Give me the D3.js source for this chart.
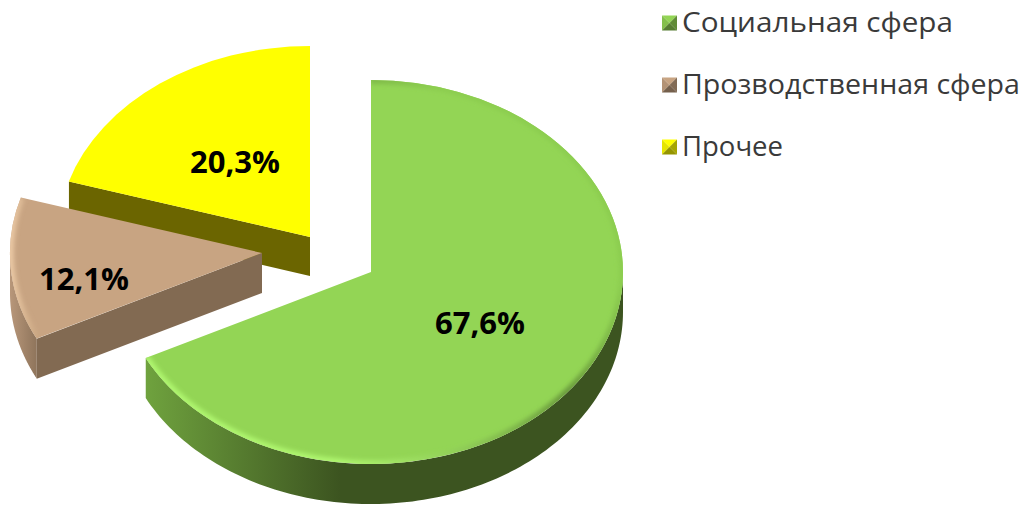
<!DOCTYPE html>
<html>
<head>
<meta charset="utf-8">
<script src="https://d3js.org/d3.v7.min.js"></script>
<style>
    html, body { margin: 0; padding: 0; background: #fff; }
    svg { display: block; }
</style>
</head>
<body>
<svg id="chart" width="1026" height="506"></svg>
<script>
const categories = ["Социальная сфера", "Прозводственная сфера", "Прочее"];
const values = [67.6, 12.1, 20.3];
const valueLabels = ["67,6%", "12,1%", "20,3%"];

// styles per slice, same order as categories
const topColors = ["#93d555", "#c8a482", "#ffff00"];
const sideColors = ["#3c5420", "#826a52", "#6b6500"];
const outerLight = ["#6fa23e", "#b8977a", "#6b6500"];
const rimLight = ["#aef56e", "#eac8a4", "#ffff00"];
const rimDark = ["#6a9a3c", "#b8946f", "#ffff00"];
const rimEnd = ["#8ccd50", "#c8a482", "#ffff00"];

// exploded slice centres on the page
const centerX = [371, 262, 310];
const centerY = [272, 253, 237];
const radiusY = [192, 191, 191];
const labelX = [480, 84, 235];
const labelY = [334, 290, 173];

const legendY = [23, 85, 147];
const legendBaseline = [32, 94, 156];
const legendWidth = [271, 338, 101];

const radiusX = 252;
const depth = [40, 40, 39];
const drawOrder = [2, 1, 0];

const svg = d3.select("#chart");
const defs = svg.append("defs");

defs.append("filter").attr("id", "rimBlur")
    .attr("x", "-10%").attr("y", "-10%").attr("width", "120%").attr("height", "120%")
    .append("feGaussianBlur").attr("stdDeviation", 2);

const slices = d3.pie().sort(null).startAngle(0).endAngle(2 * Math.PI)(values);
const arc = d3.arc().innerRadius(0).outerRadius(1);

const px = (i, a) => centerX[i] + radiusX * Math.sin(a);
const py = (i, a) => centerY[i] - radiusY[i] * Math.cos(a);

const line = d3.line();

// points along the rim between two angles
const rimPoints = (i, a0, a1, dy = 0) =>
    d3.range(0, 121).map(k => {
        const a = a0 + (a1 - a0) * k / 120;
        return [px(i, a), py(i, a) + dy];
    });

// gradient on the round wall, bright at its left end and dark further on
const wallGradient = (i, x0, x1) => {
    const g = defs.append("linearGradient")
        .attr("id", `wall${i}`)
        .attr("gradientUnits", "userSpaceOnUse")
        .attr("x1", x0).attr("x2", x1).attr("y1", 0).attr("y2", 0);
    g.append("stop").attr("offset", 0).attr("stop-color", outerLight[i]);
    g.append("stop").attr("offset", 1).attr("stop-color", sideColors[i]);
};

// rim runs light -> dark -> almost the face colour on the far side
const rimGradient = (i, x0, y0, x1, y1) => {
    const g = defs.append("linearGradient")
        .attr("id", `rim${i}`)
        .attr("gradientUnits", "userSpaceOnUse")
        .attr("x1", x0).attr("y1", y0).attr("x2", x1).attr("y2", y1);
    g.append("stop").attr("offset", 0).attr("stop-color", rimLight[i]);
    g.append("stop").attr("offset", 0.55).attr("stop-color", rimDark[i]);
    g.append("stop").attr("offset", 0.85).attr("stop-color", rimEnd[i]);
};

wallGradient(0, 146, 340);
wallGradient(1, 10, 45);
rimGradient(0, 340, 460, 620, 200);
rimGradient(1, 10, 300, 90, 300);

drawOrder.forEach(i => {
    const s = slices[i];
    const g = svg.append("g");

    // front round wall, only the part facing the viewer
    const from = Math.max(s.startAngle, Math.PI / 2);
    const to = Math.min(s.endAngle, 3 * Math.PI / 2);
    if (to > from) {
        const pts = rimPoints(i, from, to).concat(rimPoints(i, to, from, depth[i]));
        g.append("path")
            .attr("d", line(pts) + "Z")
            .attr("fill", i === 2 ? sideColors[i] : `url(#wall${i})`);
    }

    // cut wall along the slice's starting edge
    if (i !== 0) {
        const a = s.startAngle;
        const pts = [
            [centerX[i], centerY[i]],
            [px(i, a), py(i, a)],
            [px(i, a), py(i, a) + depth[i]],
            [centerX[i], centerY[i] + depth[i]]
        ];
        g.append("path").attr("d", line(pts) + "Z").attr("fill", sideColors[i]);
    }

    // top face
    defs.append("clipPath").attr("id", `face${i}`)
        .append("path")
        .attr("transform", `translate(${centerX[i]},${centerY[i]}) scale(${radiusX},${radiusY[i]})`)
        .attr("d", arc(s));

    g.append("path")
        .attr("transform", `translate(${centerX[i]},${centerY[i]}) scale(${radiusX},${radiusY[i]})`)
        .attr("d", arc(s))
        .attr("fill", topColors[i]);

    // soft bevel on the edge
    if (i !== 2) {
        g.append("g").attr("clip-path", `url(#face${i})`)
            .append("path")
            .attr("d", line(rimPoints(i, s.startAngle, s.endAngle)))
            .attr("fill", "none")
            .attr("stroke", `url(#rim${i})`)
            .attr("stroke-width", 8)
            .attr("filter", "url(#rimBlur)");
    }
});

// value labels
svg.append("g").selectAll("text")
    .data(valueLabels)
    .join("text")
    .attr("x", (d, i) => labelX[i])
    .attr("y", (d, i) => labelY[i])
    .attr("text-anchor", "middle")
    .attr("font-family", "'Open Sans', sans-serif")
    .attr("font-weight", 700)
    .attr("font-size", 31)
    .attr("fill", "#000")
    .text(d => d);

// legend
const markerSize = 15;
const legend = svg.append("g").selectAll("g")
    .data(categories)
    .join("g");

const shade = (c, k) => d3.rgb(c).darker(k).formatHex();

legend.each(function (d, i) {
    const g = d3.select(this);
    const x0 = 662, x1 = x0 + markerSize;
    const y0 = legendY[i] - markerSize / 2, y1 = y0 + markerSize;
    const mx = (x0 + x1) / 2, my = (y0 + y1) / 2;
    const tris = [
        [[x0, y0], [x1, y0], [mx, my], topColors[i]],
        [[x0, y0], [x0, y1], [mx, my], shade(topColors[i], 0.3)],
        [[x1, y0], [x1, y1], [mx, my], shade(topColors[i], 1.2)],
        [[x0, y1], [x1, y1], [mx, my], shade(topColors[i], 1.5)]
    ];
    g.selectAll("path").data(tris).join("path")
        .attr("d", t => line(t.slice(0, 3)) + "Z")
        .attr("fill", t => t[3]);
    g.append("text")
        .attr("x", 682)
        .attr("y", legendBaseline[i])
        .attr("font-family", "'Open Sans', sans-serif")
        .attr("font-size", 27)
        .attr("fill", "#3a3a3a")
        .attr("textLength", legendWidth[i])
        .attr("lengthAdjust", "spacingAndGlyphs")
        .text(d);
});
</script>
</body>
</html>
